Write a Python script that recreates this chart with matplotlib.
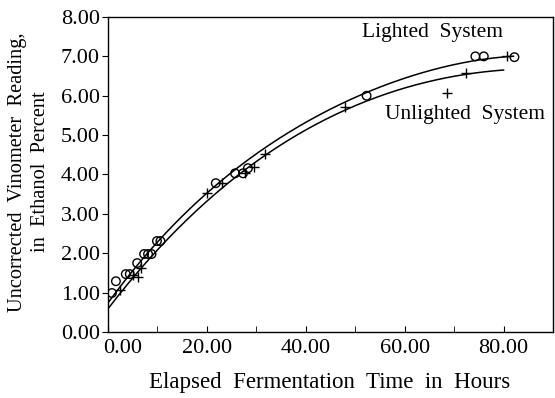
import numpy as np
import matplotlib
matplotlib.use("Agg")
import matplotlib.pyplot as plt
import matplotlib.transforms as mtransforms

plt.rcParams['font.family'] = ['Liberation Serif', 'DejaVu Serif']

# Lighted system (circles)
lit_x = [0.8, 1.6, 3.6, 4.4, 5.9, 7.3, 8.1, 8.8, 9.9, 10.6, 21.8, 25.7, 27.3, 28.3, 52.3, 74.3, 76.0, 82.2]
lit_y = [0.99, 1.29, 1.47, 1.47, 1.75, 1.98, 1.98, 1.98, 2.31, 2.31, 3.78, 4.03, 4.03, 4.16, 6.0, 7.0, 7.0, 6.98]
# Unlighted system (plus)
unl_x = [2.4, 5.0, 6.0, 6.7, 20.0, 23.0, 27.8, 29.5, 31.7, 47.9, 68.5, 72.5, 80.6]
unl_y = [1.07, 1.45, 1.40, 1.62, 3.53, 3.78, 4.03, 4.19, 4.52, 5.71, 6.07, 6.57, 7.0]

# Fitted curves
lit_curve_x = [0, 10, 20, 30, 40, 50, 60, 70, 82]
lit_curve_y = [0.75, 2.25, 3.55, 4.55, 5.3, 5.95, 6.45, 6.8, 7.0]
unl_curve_x = [0, 10, 20, 30, 40, 50, 60, 70, 80]
unl_curve_y = [0.6, 2.05, 3.35, 4.35, 5.1, 5.75, 6.2, 6.5, 6.65]

x_ticks = [0, 20, 40, 60, 80]
x_tick_labels = ["0.00", "20.00", "40.00", "60.00", "80.00"]
y_ticks = [0, 1, 2, 3, 4, 5, 6, 7, 8]
y_tick_labels = ["%.2f" % v for v in y_ticks]

fig = plt.figure(figsize=(5.55, 3.98), dpi=100)
ax = fig.add_axes([108/555, 1-332/398, (553-108)/555, (332-17)/398])

def smooth(xs, ys, x0, x1):
    c = np.polyfit(xs, ys, 4)
    xx = np.linspace(x0, x1, 200)
    return xx, np.polyval(c, xx)

xx, yy = smooth(lit_curve_x, lit_curve_y, 0, lit_curve_x[-1])
ax.plot(xx, yy, color='black', lw=1.1)
xx, yy = smooth(unl_curve_x, unl_curve_y, 0, unl_curve_x[-1])
ax.plot(xx, yy, color='black', lw=1.1)

ax.scatter(lit_x, lit_y, s=38, facecolors='none', edgecolors='black', linewidths=1.0, zorder=3)
ax.scatter(unl_x, unl_y, s=45, marker='+', color='black', linewidths=1.0, zorder=3)

ax.set_xlim(0, 90)
ax.set_ylim(0, 8)
ax.set_xticks(x_ticks)
ax.set_xticklabels(x_tick_labels)
ax.set_xticks([10, 30, 50, 70], minor=True)
ax.set_yticks(y_ticks)
ax.set_yticklabels(y_tick_labels)
ax.tick_params(axis='x', direction='in', length=4, labelsize=16, pad=5)
ax.tick_params(axis='x', which='minor', direction='in', length=4)
ax.tick_params(axis='y', direction='out', length=4, labelsize=16, pad=2)
for s in ax.spines.values():
    s.set_linewidth(1.0)

# shift first x label right
lbl = ax.get_xticklabels()[0]
lbl.set_transform(lbl.get_transform() + mtransforms.ScaledTranslation(15/100, 0, fig.dpi_scale_trans))

ax.set_xlabel("Elapsed  Fermentation  Time  in  Hours", fontsize=16.5)
ax.xaxis.set_label_coords((330-108)/445, (332-372)/315)
ax.set_ylabel("Uncorrected  Vinometer  Reading,\nin  Ethanol  Percent", fontsize=14.7, linespacing=1.3)
ax.yaxis.label.set_verticalalignment('center')
ax.yaxis.label.set_horizontalalignment('center')
ax.yaxis.set_label_coords((29-108)/445, (332-172)/315)

ax.text(51.3, 7.6, "Lighted  System", fontsize=15.5, va='center', ha='left')
ax.text(56, 5.53, "Unlighted  System", fontsize=15.5, va='center', ha='left')

fig.savefig("out.png", dpi=100)
